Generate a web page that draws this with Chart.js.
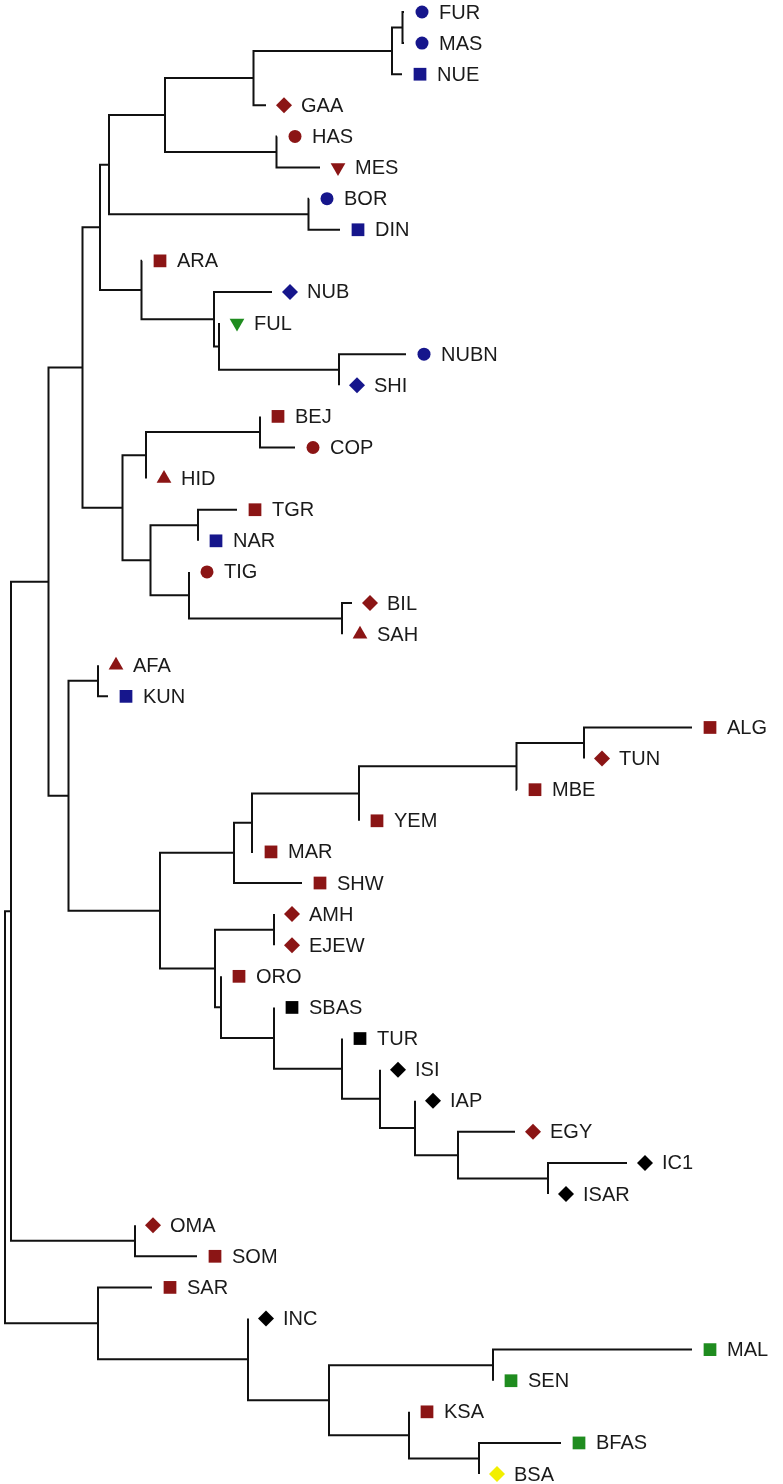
<!DOCTYPE html>
<html lang="en">
<head>
  <meta charset="UTF-8" />
  <title>Population tree</title>
  <script src="https://cdn.jsdelivr.net/npm/chart.js"></script>
  <style>
    html, body { margin: 0; padding: 0; background: #fff; overflow: hidden; }
    #wrap { width: 783px; height: 1484px; position: relative; }
    canvas { display: block; }
  </style>
</head>
<body>
<div id="wrap"><canvas id="treeChart"></canvas></div>
<script>
// tips, top to bottom
const leafNames = ['FUR','MAS','NUE','GAA','HAS','MES','BOR','DIN','ARA','NUB','FUL','NUBN','SHI',
  'BEJ','COP','HID','TGR','NAR','TIG','BIL','SAH','AFA','KUN','ALG','TUN','MBE','YEM','MAR','SHW',
  'AMH','EJEW','ORO','SBAS','TUR','ISI','IAP','EGY','IC1','ISAR','OMA','SOM','SAR','INC','MAL','SEN',
  'KSA','BFAS','BSA'];

// distance from root to each tip
const leafTipX = [404,404,402,266,277,320,309,340,142,272,219,406,339,
  260,295,146,237,198,189,352,342,98,108,692,584,517,359,253,302,
  274,274,221,274,342,380,415,515,627,548,135,197,152,248,692,493,
  409,561,479];

const leafSymbol = ['circle','circle','square','diamond','circle','down','circle','square','square','diamond','down','circle','diamond',
  'square','circle','up','square','square','circle','diamond','up','up','square','square','diamond','square','square','square','square',
  'diamond','diamond','square','square','square','diamond','diamond','diamond','diamond','diamond','diamond','square','square','diamond','square','square',
  'square','square','diamond'];

const leafGroup = ['blue','blue','blue','red','red','red','blue','blue','red','blue','green','blue','blue',
  'red','red','red','red','blue','red','red','red','red','blue','red','red','red','red','red','red',
  'red','red','red','black','black','black','black','red','black','black','red','red','red','black','green','green',
  'red','green','yellow'];

// internal nodes: children (number = tip index, 'nK' = node K) and distance from root
const nodeChildren = [
  [0, 1], ['n0', 2], ['n1', 3], [4, 5], ['n2', 'n3'], [6, 7], ['n4', 'n5'],
  [11, 12], [10, 'n7'], [9, 'n8'], [8, 'n9'], ['n6', 'n10'],
  [13, 14], ['n12', 15], [16, 17], [19, 20], [18, 'n15'], ['n14', 'n16'], ['n13', 'n17'], ['n11', 'n18'],
  [21, 22], [23, 24], ['n21', 25], ['n22', 26], ['n23', 27], ['n24', 28],
  [29, 30], [37, 38], [36, 'n27'], [35, 'n28'], [34, 'n29'], [33, 'n30'], [32, 'n31'], [31, 'n32'], ['n26', 'n33'],
  ['n25', 'n34'], ['n20', 'n35'], ['n19', 'n36'], [39, 40], ['n37', 'n38'],
  [43, 44], [46, 47], [45, 'n41'], ['n40', 'n42'], [42, 'n43'], [41, 'n44'], ['n39', 'n45']
];
const nodeX = [
  402.5, 392, 253.5, 276.5, 165, 308.5, 109,
  339, 219, 214, 141.5, 100,
  260, 146, 198, 342, 189, 150.5, 122.5, 82.5,
  98, 584, 516.5, 359, 252, 234,
  274, 548, 458, 415, 380, 342, 274, 221, 215,
  160, 68.5, 48.5, 135, 11,
  493, 479, 409, 329, 248, 98, 5
];

const groupColours = { red: '#8b1515', blue: '#16168c', green: '#1f8c1f', black: '#000000', yellow: '#f2ef00' };
const symbolStyles = {
  circle:  { style: 'circle',   radius: 6.5, rotation: 0 },
  square:  { style: 'rect',     radius: 9,   rotation: 0 },
  diamond: { style: 'rectRot',  radius: 8,   rotation: 0 },
  up:      { style: 'triangle', radius: 8.5, rotation: 0 },
  down:    { style: 'triangle', radius: 8.5, rotation: 180 }
};
const markerGap = 18;

function place(ref) {
  if (typeof ref === 'number') return { x: leafTipX[ref], y: ref };
  const k = +ref.slice(1);
  const a = place(nodeChildren[k][0]);
  const b = place(nodeChildren[k][1]);
  return { x: nodeX[k], y: (a.y + b.y) / 2 };
}

// each internal node drawn as a bracket joining its two children
const branchPoints = [];
nodeChildren.forEach((pair, k) => {
  const a = place(pair[0]);
  const b = place(pair[1]);
  branchPoints.push(
    { x: a.x, y: a.y }, { x: nodeX[k], y: a.y },
    { x: nodeX[k], y: b.y }, { x: b.x, y: b.y },
    { x: nodeX[k], y: null }
  );
});

const tipPoints = leafNames.map((name, i) => ({ x: leafTipX[i] + markerGap, y: i }));

const tipLabels = {
  id: 'tipLabels',
  afterDatasetsDraw(chart) {
    const meta = chart.getDatasetMeta(0);
    const ctx = chart.ctx;
    ctx.save();
    ctx.font = '20px "Liberation Sans", Arial, sans-serif';
    ctx.fillStyle = '#1a1a1a';
    ctx.textBaseline = 'middle';
    meta.data.forEach((pt, i) => ctx.fillText(leafNames[i], pt.x + 17, pt.y + 1));
    ctx.restore();
  }
};

new Chart(document.getElementById('treeChart'), {
  type: 'scatter',
  data: {
    datasets: [
      {
        label: 'tips',
        data: tipPoints,
        order: 0,
        pointStyle: leafSymbol.map(s => symbolStyles[s].style),
        pointRadius: leafSymbol.map(s => symbolStyles[s].radius),
        rotation: leafSymbol.map(s => symbolStyles[s].rotation),
        backgroundColor: leafGroup.map(g => groupColours[g]),
        borderWidth: 0
      },
      {
        label: 'branches',
        data: branchPoints,
        order: 1,
        showLine: true,
        spanGaps: false,
        borderColor: '#111',
        borderWidth: 2,
        borderCapStyle: 'butt',
        borderJoinStyle: 'miter',
        pointRadius: 0,
        tension: 0
      }
    ]
  },
  options: {
    responsive: true,
    maintainAspectRatio: false,
    animation: false,
    events: [],
    layout: { padding: 0, autoPadding: false },
    plugins: { legend: { display: false }, tooltip: { enabled: false } },
    scales: {
      x: { type: 'linear', display: false, min: 0, max: 783 },
      y: { type: 'linear', display: false, min: -0.386, max: 47.32, reverse: true }
    }
  },
  plugins: [tipLabels]
});
</script>
</body>
</html>
